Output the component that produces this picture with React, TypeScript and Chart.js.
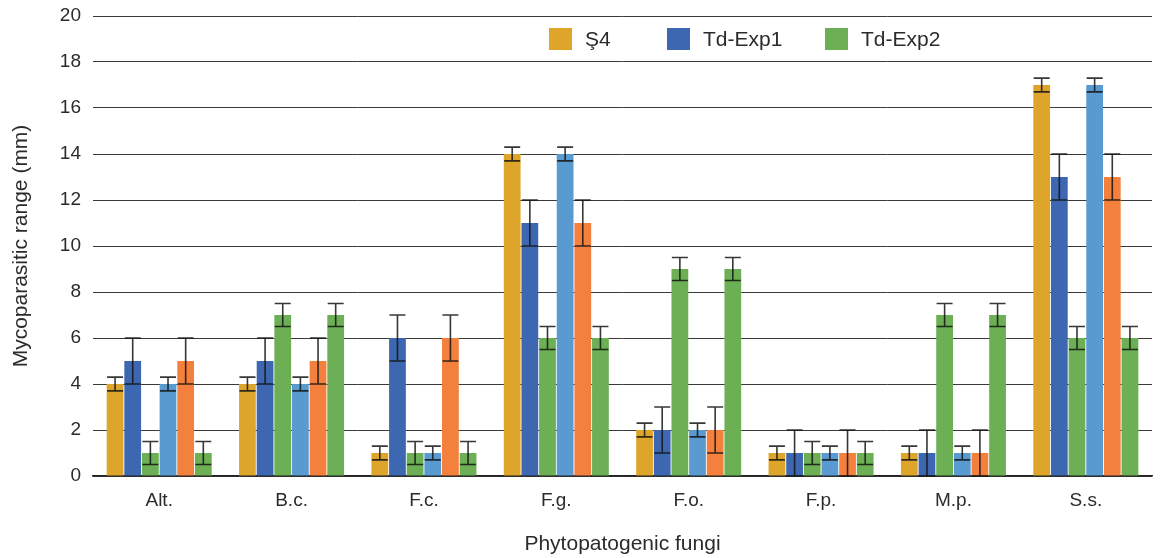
import React, { useEffect, useRef } from "react";
import { Chart, registerables } from "chart.js";

Chart.register(...registerables);

const categories = ["Alt.", "B.c.", "F.c.", "F.g.", "F.o.", "F.p.", "M.p.", "S.s."];
const yTicks = [0, 2, 4, 6, 8, 10, 12, 14, 16, 18, 20];

const s4Values = [4, 4, 1, 14, 2, 1, 1, 17];
const s4Errors = [0.3, 0.3, 0.3, 0.3, 0.3, 0.3, 0.3, 0.3];
const exp1Values = [5, 5, 6, 11, 2, 1, 1, 13];
const exp1Errors = [1, 1, 1, 1, 1, 1, 1, 1];
const exp2Values = [1, 7, 1, 6, 9, 1, 7, 6];
const exp2Errors = [0.5, 0.5, 0.5, 0.5, 0.5, 0.5, 0.5, 0.5];
const s4bValues = [4, 4, 1, 14, 2, 1, 1, 17];
const s4bErrors = [0.3, 0.3, 0.3, 0.3, 0.3, 0.3, 0.3, 0.3];
const exp1bValues = [5, 5, 6, 11, 2, 1, 1, 13];
const exp1bErrors = [1, 1, 1, 1, 1, 1, 1, 1];
const exp2bValues = [1, 7, 1, 6, 9, 1, 7, 6];
const exp2bErrors = [0.5, 0.5, 0.5, 0.5, 0.5, 0.5, 0.5, 0.5];

const legendLabels = ["Ş4", "Td-Exp1", "Td-Exp2"];

const COLORS = {
  yellow: "#DDA62A",
  blue: "#3D68B1",
  green: "#6CAF55",
  lightBlue: "#599BD0",
  orange: "#F4803E",
};

const FONT = "'Liberation Sans', Arial, Helvetica, sans-serif";
const TEXT = "#2b2b2b";

const errorBarPlugin = {
  id: "errorBars",
  afterDatasetsDraw(chart: any) {
    const ctx = chart.ctx;
    const yScale = chart.scales.y;
    ctx.save();
    chart.data.datasets.forEach((ds: any, i: number) => {
      const meta = chart.getDatasetMeta(i);
      if (!ds.errors) return;
      meta.data.forEach((el: any, j: number) => {
        const v = ds.data[j];
        const e = ds.errors[j];
        const yTop = yScale.getPixelForValue(v + e);
        const yBot = yScale.getPixelForValue(Math.max(0, v - e));
        const x = el.x;
        const half = 8;
        ctx.strokeStyle = "rgba(20,20,20,0.85)";
        ctx.lineWidth = 1.6;
        ctx.beginPath();
        ctx.moveTo(x, yTop);
        ctx.lineTo(x, yBot);
        ctx.moveTo(x - half, yTop);
        ctx.lineTo(x + half, yTop);
        ctx.moveTo(x - half, yBot);
        ctx.lineTo(x + half, yBot);
        ctx.stroke();
      });
    });
    ctx.restore();
  },
};

const legendPlugin = {
  id: "customLegend",
  afterDraw(chart: any) {
    const ctx = chart.ctx;
    const area = chart.chartArea;
    const offsets = [456, 574, 732];
    const cy = area.top + 23;
    ctx.save();
    ctx.font = `21px ${FONT}`;
    ctx.textBaseline = "middle";
    ctx.textAlign = "left";
    legendLabels.forEach((label, i) => {
      const ds = chart.data.datasets[i];
      const x = area.left + offsets[i];
      ctx.fillStyle = ds.backgroundColor;
      ctx.fillRect(x, cy - 11, 23, 22);
      ctx.fillStyle = TEXT;
      ctx.fillText(label, x + 36, cy + 1);
    });
    ctx.restore();
  },
};

export default function App() {
  const canvasRef = useRef<HTMLCanvasElement | null>(null);

  useEffect(() => {
    document.body.style.margin = "0";
    const canvas = canvasRef.current;
    if (!canvas) return;
    const mk = (label: string, data: number[], errors: number[], color: string) => ({
      label,
      data,
      errors,
      backgroundColor: color,
      borderWidth: 0,
      barPercentage: 0.95,
      categoryPercentage: 0.8,
    });
    const chart = new Chart(canvas, {
      type: "bar",
      data: {
        labels: categories,
        datasets: [
          mk(legendLabels[0], s4Values, s4Errors, COLORS.yellow),
          mk(legendLabels[1], exp1Values, exp1Errors, COLORS.blue),
          mk(legendLabels[2], exp2Values, exp2Errors, COLORS.green),
          mk("Ş4 (2)", s4bValues, s4bErrors, COLORS.lightBlue),
          mk("Td-Exp1 (2)", exp1bValues, exp1bErrors, COLORS.orange),
          mk("Td-Exp2 (2)", exp2bValues, exp2bErrors, COLORS.green),
        ] as any,
      },
      options: {
        animation: false,
        responsive: false,
        devicePixelRatio: 1,
        layout: { padding: { left: 0, right: 14, top: 16, bottom: 0 } },
        plugins: {
          legend: { display: false },
          tooltip: { enabled: false },
        },
        scales: {
          x: {
            grid: { display: false, drawTicks: false },
            border: { display: true, color: "#222", width: 1.5 },
            ticks: { color: TEXT, font: { family: FONT, size: 19 }, padding: 13 },
            title: {
              display: true,
              text: "Phytopatogenic fungi",
              color: TEXT,
              font: { family: FONT, size: 21 },
              padding: { top: 0, bottom: 1 },
            },
            afterFit: (scale: any) => {
              scale.height = 82;
              scale.paddingLeft = 0;
              scale.paddingRight = 0;
            },
          },
          y: {
            min: 0,
            max: 20,
            afterBuildTicks: (scale: any) => {
              scale.ticks = yTicks.map((v) => ({ value: v }));
            },
            grid: { color: "#3a3a3a", lineWidth: 1, drawTicks: false },
            border: { display: false },
            ticks: { color: TEXT, font: { family: FONT, size: 19 }, padding: 12 },
            title: {
              display: true,
              text: "Mycoparasitic range (mm)",
              color: TEXT,
              font: { family: FONT, size: 21 },
              padding: { top: 9, bottom: 0 },
            },
            afterFit: (scale: any) => {
              scale.width = 93;
              scale.paddingTop = 0;
              scale.paddingBottom = 0;
            },
          },
        },
      },
      plugins: [errorBarPlugin, legendPlugin],
    });
    return () => chart.destroy();
  }, []);

  return (
    <div style={{ position: "fixed", left: 0, top: 0, width: 1166, height: 558, background: "#fff" }}>
      <canvas ref={canvasRef} width={1166} height={558} style={{ width: 1166, height: 558, display: "block" }} />
    </div>
  );
}
